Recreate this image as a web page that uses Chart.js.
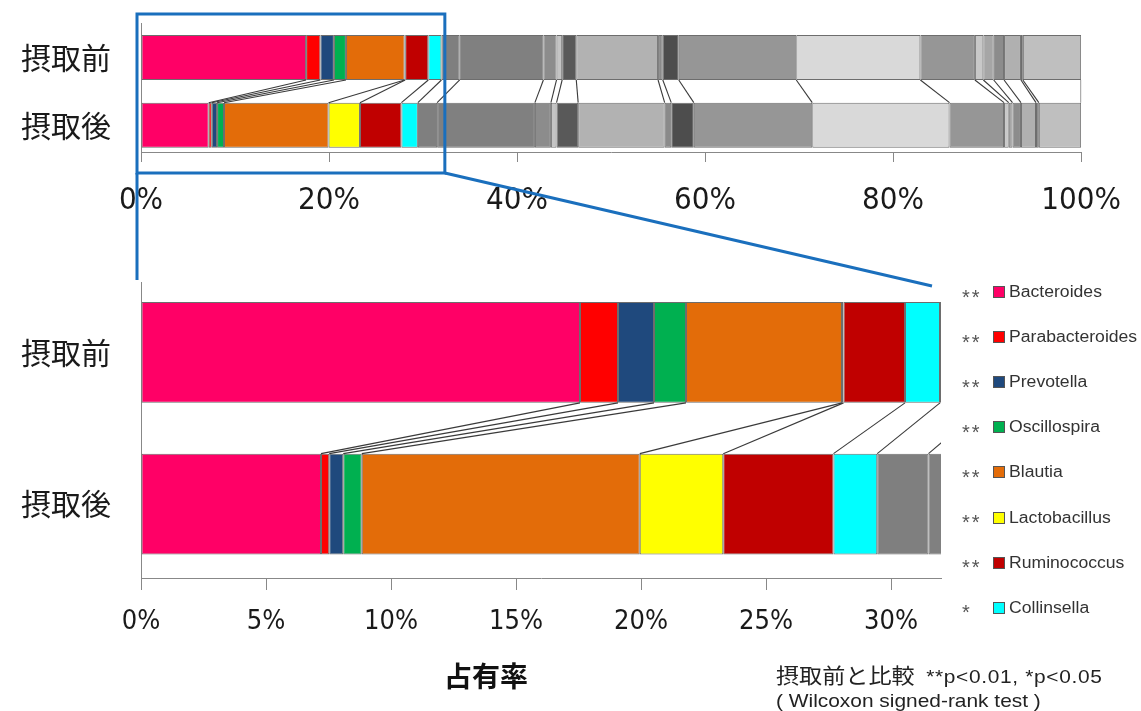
<!DOCTYPE html>
<html>
<head>
<meta charset="utf-8">
<script src="https://cdn.jsdelivr.net/npm/chart.js@4.4.1/dist/chart.umd.min.js"></script>
<style>
  html, body { margin: 0; padding: 0; background: #fff; }
  #wrap { position: relative; width: 1141px; height: 711px; overflow: hidden; }
  #wrap canvas { position: absolute; left: 0; top: 0; }
  .legend-row { position: absolute; left: 962px; height: 20px; display: flex; align-items: center; white-space: nowrap; }
  .legend-row .sig { width: 31px; font-family: 'Liberation Sans', Arial, sans-serif; font-size: 20px; letter-spacing: 2px; color: #555; position: relative; top: 5px; }
  .legend-row .box { width: 12px; height: 12px; box-sizing: border-box; border: 1px solid #555; }
  .legend-row .name { margin-left: 4px; font-family: 'Liberation Sans', Arial, sans-serif; font-size: 16px; color: #333; transform: scaleX(1.1); transform-origin: left center; }
  #axisName { position: absolute; left: 444px; top: 657px; font-family: 'Noto Sans CJK JP', sans-serif; font-weight: bold; font-size: 28px; color: #111; line-height: 36px; }
  .note { position: absolute; left: 776px; white-space: nowrap; color: #222; transform: scaleX(1.1); transform-origin: left center; font-family: 'Liberation Sans', Arial, sans-serif; font-size: 19px; line-height: 26px; }
  .note .jp { font-family: 'Noto Sans CJK JP', sans-serif; font-size: 21px; }
  .note .stat { letter-spacing: 0.6px; }
</style>
</head>
<body>
<div id="wrap">
  <canvas id="overview" width="1141" height="711"></canvas>
  <canvas id="detail" width="1141" height="711"></canvas>
  <div id="legend"></div>
  <div id="axisName">占有率</div>
  <div class="note" style="top:661px"><span class="jp">摂取前と比較</span>&nbsp;&nbsp;<span class="stat">**p&lt;0.01, *p&lt;0.05</span></div>
  <div class="note" style="top:688px">( Wilcoxon signed-rank test )</div>
</div>
<script>
// Rows: before / after intake
const rowLabels = ['摂取前', '摂取後'];

// Named genera (share of reads, %)
const genusNames = ['Bacteroides', 'Parabacteroides', 'Prevotella', 'Oscillospira',
                    'Blautia', 'Lactobacillus', 'Ruminococcus', 'Collinsella'];
const genusSignificance = ['**', '**', '**', '**', '**', '**', '**', '*'];
const genusColors = ['#FF0066', '#FF0000', '#1F497D', '#00B050',
                     '#E36C09', '#FFFF00', '#C00000', '#00FFFF'];
const genusBefore = [17.56, 1.52, 1.44, 1.28, 6.24, 0.06, 2.46, 1.40];
const genusAfter  = [7.20, 0.33, 0.56, 0.74, 11.12, 3.34, 4.41, 1.75];

// Remaining genera, shown in greys
const otherBefore = [1.94, 8.9, 1.4, 0.6, 1.5, 8.7, 0.5, 1.7, 12.5, 13.2, 5.8, 0.9, 1.1, 1.1, 1.8, 0.2, 6.2];
const otherAfter  = [2.05, 10.4, 1.7, 0.6, 2.3, 9.2, 0.7, 2.4, 12.6, 14.6, 5.8, 0.5, 0.4, 0.9, 1.6, 0.3, 4.5];
const otherColors = ['#7f7f7f', '#808080', '#8c8c8c', '#c4c4c4', '#595959', '#b2b2b2', '#8a8a8a', '#4d4d4d',
                     '#969696', '#d9d9d9', '#969696', '#c8c8c8', '#a6a6a6', '#8c8c8c', '#b0b0b0', '#7a7a7a', '#bfbfbf'];

// Axis ticks (%)
const overviewTicks = [0, 20, 40, 60, 80, 100];
const detailTicks = [0, 5, 10, 15, 20, 25, 30];
const detailMax = 32;

const tickFont = "'DejaVu Sans Condensed', 'Liberation Sans', sans-serif";
const cjkFont = "'Noto Sans CJK JP', sans-serif";

function buildDatasets() {
  const sets = [];
  genusNames.forEach((name, i) => sets.push({
    label: name,
    data: [genusBefore[i], genusAfter[i]],
    backgroundColor: genusColors[i]
  }));
  otherColors.forEach((c, i) => sets.push({
    label: 'other ' + (i + 1),
    data: [otherBefore[i], otherAfter[i]],
    backgroundColor: c
  }));
  return sets.map(d => Object.assign(d, {
    borderColor: '#6d6d6d', borderWidth: 1, borderSkipped: false,
    barPercentage: 1, categoryPercentage: 0.665
  }));
}

// Lines joining each segment boundary of the upper bar to the lower bar
const segmentLinks = {
  id: 'segmentLinks',
  afterDatasetsDraw(chart) {
    const { ctx, chartArea: a } = chart;
    ctx.save();
    ctx.beginPath();
    ctx.rect(a.left, a.top, a.right - a.left, a.bottom - a.top);
    ctx.clip();
    ctx.strokeStyle = '#3a3a3a';
    ctx.lineWidth = 1.1;
    chart.data.datasets.forEach((ds, i) => {
      const meta = chart.getDatasetMeta(i);
      const p = meta.data[0], q = meta.data[1];
      ctx.beginPath();
      ctx.moveTo(p.x, p.y + p.height / 2);
      ctx.lineTo(q.x, q.y - q.height / 2);
      ctx.stroke();
    });
    ctx.restore();
  }
};

function xAxis(ticks, max, fontSize, tickLen, pad) {
  return {
    type: 'linear', min: 0, max: max, stacked: true,
    afterBuildTicks: s => { s.ticks = ticks.map(v => ({ value: v })); },
    afterFit: s => { s.height = 70; },
    grid: { drawOnChartArea: false, drawTicks: true, tickLength: tickLen, color: '#888' },
    border: { color: '#888', width: 1 },
    ticks: { callback: v => v + '%', font: { family: tickFont, size: fontSize }, color: '#1a1a1a', padding: pad, maxRotation: 0, autoSkip: false }
  };
}

// Row axis: the two rows sit at fixed fractions of the plot height
function yAxis(start, range) {
  return {
    type: 'category', stacked: true,
    afterBuildTicks: s => { s._startValue = start; s._valueRange = range; },
    afterFit: s => { s.width = 141; s.paddingTop = 0; s.paddingBottom = 0; },
    grid: { drawOnChartArea: false, drawTicks: false },
    border: { color: '#888', width: 1 },
    ticks: { font: { family: cjkFont, size: 30 }, color: '#1a1a1a', padding: 30 }
  };
}

function baseOptions(padding, x, y) {
  return {
    indexAxis: 'y',
    responsive: false,
    devicePixelRatio: 1,
    animation: false,
    layout: { padding: padding },
    plugins: { legend: { display: false }, tooltip: { enabled: false } },
    scales: { x: x, y: y }
  };
}

const overviewChart = new Chart(document.getElementById('overview'), {
  type: 'bar',
  data: { labels: rowLabels, datasets: buildDatasets() },
  options: baseOptions({ left: 0, top: 23, right: 58, bottom: 711 - 152 - 70 },
                       xAxis(overviewTicks, 100, 31, 10, 20), yAxis(-0.509, 1.905)),
  plugins: [segmentLinks]
});

// Blue frame marking the enlarged range, with guide lines down to the detail chart
const zoomFrame = {
  id: 'zoomFrame',
  afterDraw(chart) {
    const ta = overviewChart.chartArea, tx = overviewChart.scales.x;
    const da = chart.chartArea, dx = chart.scales.x;
    const ctx = chart.ctx;
    const left = ta.left - 4;
    const right = tx.getPixelForValue(detailMax) + 3;
    const top = ta.top - 9;
    const bottom = ta.bottom + 21;
    ctx.save();
    ctx.strokeStyle = '#1a6fbd';
    ctx.lineWidth = 3;
    ctx.strokeRect(left, top, right - left, bottom - top);
    ctx.beginPath();
    ctx.moveTo(left, bottom);
    ctx.lineTo(left, da.top - 2);
    ctx.moveTo(right, bottom);
    ctx.lineTo(dx.getPixelForValue(detailMax) - 9, da.top + 4);
    ctx.stroke();
    ctx.restore();
  }
};

const detailChart = new Chart(document.getElementById('detail'), {
  type: 'bar',
  data: { labels: rowLabels, datasets: buildDatasets() },
  options: baseOptions({ left: 0, top: 282, right: 200, bottom: 711 - 578 - 70 },
                       xAxis(detailTicks, detailMax, 27, 12, 16), yAxis(-0.465, 1.953)),
  plugins: [segmentLinks, zoomFrame]
});

// Legend for the named genera, with significance marks
const legend = document.getElementById('legend');
genusNames.forEach((name, i) => {
  const row = document.createElement('div');
  row.className = 'legend-row';
  row.style.top = (282 + i * 45.1) + 'px';
  const sig = document.createElement('span');
  sig.className = 'sig';
  sig.textContent = genusSignificance[i];
  const box = document.createElement('span');
  box.className = 'box';
  box.style.background = genusColors[i];
  const label = document.createElement('span');
  label.className = 'name';
  label.textContent = name;
  row.append(sig, box, label);
  legend.appendChild(row);
});
</script>
</body>
</html>
